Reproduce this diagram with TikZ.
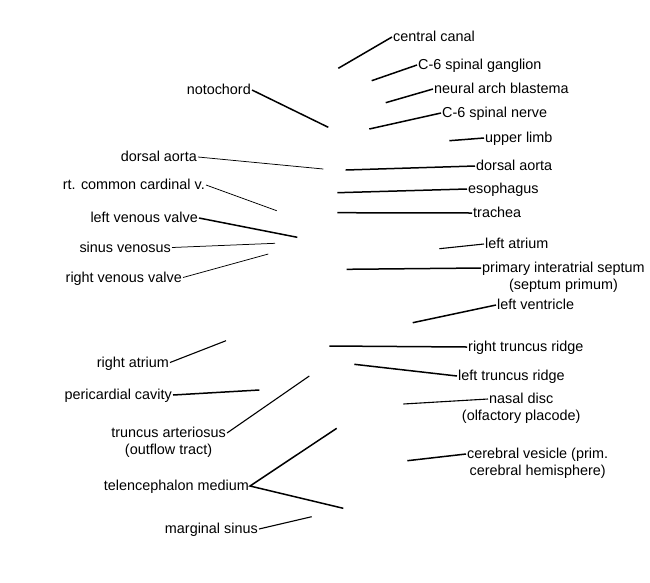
\documentclass[tikz,border=0pt]{standalone}
\usepackage{fontspec}
\setmainfont{Liberation Sans}
\usepackage{tikz}

\tikzset{
  lbl/.style={inner sep=1pt, text height=9pt, text depth=0pt,
    font=\fontsize{14.4}{17}\selectfont},
  lead/.style={line width=1.5pt},
  midlead/.style={line width=1.1pt},
  thinlead/.style={line width=0.75pt},
}

\begin{document}
\begin{tikzpicture}[x=1pt, y=-1pt]
    \useasboundingbox [fill=white] (0,0) rectangle (650,582);

    %% right hand labels, top to bottom
    \node [lbl, anchor=west] (cc1) at (392,37) {central canal};
    \coordinate (cc0) at (338.3,68.3);
    \draw [lead] (cc1.west) -- (cc0);
    \node [lbl, anchor=west] (sg1) at (417,65) {C-6 spinal ganglion};
    \coordinate (sg0) at (371.7,80.7);
    \draw [lead] (sg1.west) -- (sg0);
    \node [lbl, anchor=west] (nab1) at (433,89) {neural arch blastema};
    \coordinate (nab0) at (385.7,102.7);
    \draw [lead] (nab1.west) -- (nab0);
    \node [lbl, anchor=west] (sn1) at (441,113) {C-6 spinal nerve};
    \coordinate (sn0) at (369.3,129);
    \draw [lead] (sn1.west) -- (sn0);
    \node [lbl, anchor=west] (ul1) at (484,138) {upper limb};
    \coordinate (ul0) at (449.3,140.7);
    \draw [lead] (ul1.west) -- (ul0);
    \node [lbl, anchor=west] (da1) at (475,166) {dorsal aorta};
    \coordinate (da0) at (345.7,170);
    \draw [lead] (da1.west) -- (da0);
    \node [lbl, anchor=west] (es1) at (467,189) {esophagus};
    \coordinate (es0) at (337.3,192.7);
    \draw [lead] (es1.west) -- (es0);
    \node [lbl, anchor=west] (tr1) at (472,213) {trachea};
    \coordinate (tr0) at (337.3,212.7);
    \draw [lead] (tr1.west) -- (tr0);
    \node [lbl, anchor=west] (la1) at (484,244) {left atrium};
    \coordinate (la0) at (439.3,248.7);
    \draw [midlead] (la1.west) -- (la0);
    \node [lbl, anchor=west] (pis1) at (481,268) {primary interatrial septum};
    \node [lbl, anchor=base] (pis2) at ([yshift=-17pt]pis1.base) {(septum primum)};
    \coordinate (pis0) at (346.7,269.3);
    \draw [lead] (pis1.west) -- (pis0);
    \node [lbl, anchor=west] (lv1) at (496,305) {left ventricle};
    \coordinate (lv0) at (412.7,322.7);
    \draw [lead] (lv1.west) -- (lv0);
    \node [lbl, anchor=west] (rtr1) at (467,347) {right truncus ridge};
    \coordinate (rtr0) at (329.3,346);
    \draw [lead] (rtr1.west) -- (rtr0);
    \node [lbl, anchor=west] (ltr1) at (457,376) {left truncus ridge};
    \coordinate (ltr0) at (354.3,364.3);
    \draw [lead] (ltr1.west) -- (ltr0);
    \node [lbl, anchor=west] (nd1) at (488,399) {nasal disc};
    \node [lbl, anchor=base] (nd2) at ([yshift=-17pt]nd1.base) {(olfactory placode)};
    \coordinate (nd0) at (403.3,404);
    \draw [midlead] (nd1.west) -- (nd0);
    \node [lbl, anchor=west] (cv1) at (466,454) {cerebral vesicle (prim.};
    \node [lbl, anchor=base] (cv2) at ([yshift=-17pt]cv1.base) {cerebral hemisphere)};
    \coordinate (cv0) at (407.3,460.7);
    \draw [lead] (cv1.west) -- (cv0);

    %% left hand labels
    \node [lbl, anchor=east] (nc1) at (252,90) {notochord};
    \coordinate (nc0) at (328.3,127.3);
    \draw [lead] (nc1.east) -- (nc0);
    \node [lbl, anchor=east] (dal1) at (198,157) {dorsal aorta};
    \coordinate (dal0) at (323.3,169);
    \draw [thinlead] (dal1.east) -- (dal0);
    \node [lbl, anchor=east] (ccv1) at (206,185) {rt. common cardinal v.};
    \coordinate (ccv0) at (276.7,210.7);
    \draw [thinlead] (ccv1.east) -- (ccv0);
    \node [lbl, anchor=east] (lvv1) at (199,218) {left venous valve};
    \coordinate (lvv0) at (297.3,237.3);
    \draw [lead] (lvv1.east) -- (lvv0);
    \node [lbl, anchor=east] (sv1) at (172,247.5) {sinus venosus};
    \coordinate (sv0) at (275,243.3);
    \draw [thinlead] (sv1.east) -- (sv0);
    \node [lbl, anchor=east] (rvv1) at (183,277.5) {right venous valve};
    \coordinate (rvv0) at (268.3,254);
    \draw [thinlead] (rvv1.east) -- (rvv0);
    \node [lbl, anchor=east] (ra1) at (170,362.5) {right atrium};
    \coordinate (ra0) at (226,340.7);
    \draw [midlead] (ra1.east) -- (ra0);
    \node [lbl, anchor=east] (pc1) at (173,395) {pericardial cavity};
    \coordinate (pc0) at (259.3,390);
    \draw [lead] (pc1.east) -- (pc0);
    \node [lbl, anchor=east] (ta1) at (227,433) {truncus arteriosus};
    \node [lbl, anchor=base] (ta2) at ([yshift=-17pt]ta1.base) {(outflow tract)};
    \coordinate (ta0) at (309.3,376);
    \draw [midlead] (ta1.east) -- (ta0);
    \node [lbl, anchor=east] (tm1) at (250,486) {telencephalon medium};
    \coordinate (tma) at (336.7,428.3);
    \coordinate (tmb) at (343.3,508.3);
    \draw [lead] (tma) -- (tm1.east) -- (tmb);
    \node [lbl, anchor=east] (ms1) at (259,529) {marginal sinus};
    \coordinate (ms0) at (311.7,516.7);
    \draw [midlead] (ms1.east) -- (ms0);

  \end{tikzpicture}
\end{document}
